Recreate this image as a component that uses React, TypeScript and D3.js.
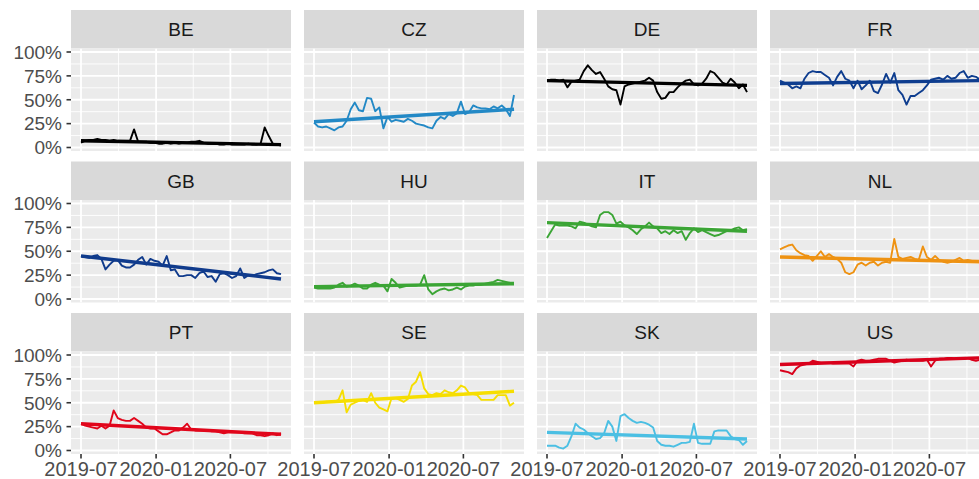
import * as d3 from "d3";

const COUNTRIES = ["BE", "CZ", "DE", "FR", "GB", "HU", "IT", "NL", "PT", "SE", "SK", "US"];
const COLORS = [
  "#000000", "#2389C6", "#000000", "#0E3D8F",
  "#103B8C", "#3BA535", "#3BA535", "#EE9212",
  "#E1061B", "#F6DE00", "#4BBFE3", "#D9001B",
];

// linear fit ends (percent), first and last date
const TREND_START = [7, 27, 70, 67, 45, 13, 80, 44, 28, 50, 19, 90];
const TREND_END = [3, 40, 65, 70, 21, 16, 71, 39, 17, 62, 12, 97];

// share (percent), one value every 10 days from 2019-07-01
const BE = [5, 7, 8, 8, 9, 8, 8, 7, 8, 7, 7, 7, 7, 19, 6, 6, 6, 5, 5, 4, 4, 5, 4, 5, 4, 5, 5, 6, 6, 7, 5, 4, 4, 4, 3, 3, 4, 3, 3, 3, 3, 4, 3, 3, 4, 21, 12, 4, 3, 2];
const CZ = [26, 22, 21, 22, 20, 18, 21, 22, 28, 40, 47, 39, 38, 52, 51, 38, 42, 20, 32, 27, 29, 28, 27, 30, 28, 25, 24, 23, 21, 20, 28, 32, 30, 35, 33, 36, 48, 35, 37, 44, 42, 41, 41, 40, 43, 41, 44, 40, 33, 55];
const DE = [70, 71, 71, 70, 71, 63, 69, 70, 71, 80, 86, 81, 77, 79, 72, 64, 61, 60, 45, 64, 66, 67, 68, 69, 70, 73, 70, 58, 51, 52, 58, 58, 63, 67, 70, 71, 66, 65, 67, 72, 80, 78, 73, 68, 66, 72, 68, 62, 66, 58];
const FR = [70, 68, 66, 62, 64, 62, 72, 78, 80, 79, 79, 76, 73, 65, 74, 80, 72, 70, 62, 70, 61, 65, 70, 59, 57, 66, 77, 68, 78, 60, 55, 45, 54, 54, 57, 60, 65, 71, 72, 73, 71, 75, 72, 73, 78, 80, 73, 75, 74, 71];
const GB = [45, 44, 43, 45, 46, 42, 31, 36, 40, 41, 35, 33, 33, 36, 41, 44, 36, 42, 40, 39, 35, 45, 30, 31, 24, 24, 25, 25, 22, 27, 29, 23, 24, 18, 26, 27, 25, 22, 24, 32, 22, 25, 24, 26, 27, 28, 30, 31, 27, 26];
const HU = [12, 11, 11, 11, 11, 12, 15, 17, 13, 14, 16, 14, 11, 11, 15, 17, 15, 14, 8, 21, 17, 12, 13, 14, 14, 14, 15, 25, 10, 5, 8, 10, 11, 9, 10, 12, 10, 13, 14, 14, 15, 15, 16, 17, 18, 20, 19, 18, 17, 17];
const IT = [64, 71, 78, 77, 77, 77, 76, 74, 81, 80, 78, 76, 75, 88, 91, 91, 88, 79, 81, 77, 75, 72, 68, 73, 76, 80, 76, 74, 69, 71, 68, 72, 69, 71, 62, 69, 74, 70, 72, 70, 68, 66, 67, 69, 71, 72, 74, 75, 72, 73];
const NL = [52, 54, 56, 57, 51, 48, 46, 45, 40, 45, 50, 44, 47, 44, 42, 38, 28, 26, 28, 36, 38, 35, 38, 39, 35, 38, 39, 38, 63, 44, 42, 43, 44, 42, 41, 55, 44, 41, 45, 41, 39, 38, 39, 41, 43, 40, 41, 40, 40, 40];
const PT = [28, 26, 25, 24, 23, 26, 23, 26, 42, 34, 32, 31, 31, 34, 31, 28, 24, 23, 23, 20, 17, 17, 19, 21, 21, 24, 28, 22, 21, 21, 21, 21, 20, 20, 19, 18, 19, 19, 19, 19, 18, 18, 18, 16, 16, 15, 16, 18, 16, 18];
const SE = [50, 50, 50, 51, 51, 51, 53, 63, 40, 48, 50, 52, 53, 51, 60, 50, 45, 43, 41, 55, 55, 53, 51, 54, 68, 72, 82, 65, 59, 58, 60, 59, 63, 61, 60, 63, 68, 66, 60, 59, 58, 53, 53, 53, 53, 58, 58, 58, 47, 50];
const SK = [5, 5, 5, 3, 2, 5, 15, 28, 24, 22, 18, 15, 12, 13, 18, 31, 25, 10, 36, 38, 34, 31, 29, 30, 29, 27, 24, 10, 6, 5, 5, 4, 6, 8, 8, 9, 28, 8, 7, 7, 7, 20, 21, 21, 21, 15, 12, 11, 6, 10];
const US = [84, 83, 82, 80, 86, 89, 90, 91, 94, 93, 92, 92, 92, 91, 91, 91, 91, 91, 88, 94, 95, 94, 94, 95, 96, 96, 96, 94, 92, 93, 94, 95, 94, 94, 94, 94, 95, 88, 94, 96, 96, 97, 97, 96, 96, 96, 97, 95, 94, 95];

const SERIES = [BE, CZ, DE, FR, GB, HU, IT, NL, PT, SE, SK, US];

const Y_TICKS = [0, 0.25, 0.5, 0.75, 1];
const Y_MINOR = [0.125, 0.375, 0.625, 0.875];
const X_TICKS = ["2019-07-01", "2020-01-01", "2020-07-01"];
const X_MINOR = ["2019-10-01", "2020-04-01", "2020-10-01"];

const W = 979;
const H = 479;
const FONT = "'Liberation Sans', Arial, sans-serif";
const COL_LEFT = 71;
const COL_STEP = 233;
const PANEL_W = 220;
const ROW_TOP = 10;
const ROW_STEP = 151.5;
const STRIP_H = 38.5;
const PANEL_H = 102.5;
const NCOL = 4;

const parse = d3.utcParse("%Y-%m-%d");
const START = parse("2019-07-01") as Date;
const DATES = d3.utcDay.range(START, d3.utcDay.offset(START, 491), 10);
const fmtX = d3.utcFormat("%Y-%m");
const fmtY = d3.format(".0%");

const Panel = ({ idx }: { idx: number }) => {
  const col = idx % NCOL;
  const row = Math.floor(idx / NCOL);
  const left = COL_LEFT + col * COL_STEP;
  const stripTop = ROW_TOP + row * ROW_STEP;
  const top = stripTop + STRIP_H;
  const bottom = top + PANEL_H;
  const nRows = Math.ceil(COUNTRIES.length / NCOL);

  const t0 = DATES[0].getTime();
  const t1 = DATES[DATES.length - 1].getTime();
  const pad = (t1 - t0) * 0.05;
  const x = d3.scaleUtc().domain([new Date(t0 - pad), new Date(t1 + pad)]).range([left, left + PANEL_W]);
  const y = d3.scaleLinear().domain([0, 1]).range([bottom - 3.5, top + 3.5]);

  const values = SERIES[idx];
  const line = d3
    .line<number>()
    .x((_, i) => x(DATES[i]))
    .y((v) => y(v / 100));
  const trend = [
    [DATES[0], TREND_START[idx]],
    [DATES[DATES.length - 1], TREND_END[idx]],
  ] as [Date, number][];
  const trendLine = d3
    .line<[Date, number]>()
    .x((d) => x(d[0]))
    .y((d) => y(d[1] / 100));

  return (
    <g>
      <rect x={left} y={stripTop} width={PANEL_W} height={STRIP_H} fill="#D9D9D9" />
      <text
        x={left + PANEL_W / 2}
        y={stripTop + STRIP_H / 2}
        dy="0.36em"
        textAnchor="middle"
        fontSize={19}
        fill="#1A1A1A"
      >
        {COUNTRIES[idx]}
      </text>
      <rect x={left} y={top} width={PANEL_W} height={PANEL_H} fill="#EBEBEB" />
      <clipPath id={`clip-${idx}`}>
        <rect x={left} y={top} width={PANEL_W} height={PANEL_H} />
      </clipPath>
      <g clipPath={`url(#clip-${idx})`}>
        {Y_MINOR.map((v) => (
          <line key={"ym" + v} x1={left} x2={left + PANEL_W} y1={y(v)} y2={y(v)} stroke="#fff" strokeWidth={0.9} />
        ))}
        {X_MINOR.map((d) => (
          <line key={"xm" + d} x1={x(parse(d)!)} x2={x(parse(d)!)} y1={top} y2={bottom} stroke="#fff" strokeWidth={0.9} />
        ))}
        {Y_TICKS.map((v) => (
          <line key={"y" + v} x1={left} x2={left + PANEL_W} y1={y(v)} y2={y(v)} stroke="#fff" strokeWidth={1.8} />
        ))}
        {X_TICKS.map((d) => (
          <line key={"x" + d} x1={x(parse(d)!)} x2={x(parse(d)!)} y1={top} y2={bottom} stroke="#fff" strokeWidth={1.8} />
        ))}
        <path d={line(values) ?? ""} fill="none" stroke={COLORS[idx]} strokeWidth={1.9} strokeLinejoin="round" />
        <path d={trendLine(trend) ?? ""} fill="none" stroke={COLORS[idx]} strokeWidth={3.4} strokeLinecap="butt" />
      </g>

      {col === 0 &&
        Y_TICKS.map((v) => (
          <g key={"yt" + v}>
            <line x1={left - 4.5} x2={left} y1={y(v)} y2={y(v)} stroke="#333333" strokeWidth={1.6} />
            <text x={left - 9} y={y(v)} dy="0.36em" textAnchor="end" fontSize={19} fill="#4D4D4D">
              {fmtY(v)}
            </text>
          </g>
        ))}

      {row === nRows - 1 &&
        X_TICKS.map((d) => (
          <g key={"xt" + d}>
            <line x1={x(parse(d)!)} x2={x(parse(d)!)} y1={bottom} y2={bottom + 4.5} stroke="#333333" strokeWidth={1.6} />
            <text x={x(parse(d)!)} y={bottom + 22} textAnchor="middle" fontSize={20} fill="#4D4D4D">
              {fmtX(parse(d)!)}
            </text>
          </g>
        ))}
    </g>
  );
};

export default function App() {
  return (
    <svg
      width={W}
      height={H}
      style={{ position: "absolute", left: 0, top: 0, background: "#fff" }}
      fontFamily={FONT}
    >
      <rect width={W} height={H} fill="#fff" />
      {COUNTRIES.map((c, i) => (
        <Panel key={c} idx={i} />
      ))}
    </svg>
  );
}
